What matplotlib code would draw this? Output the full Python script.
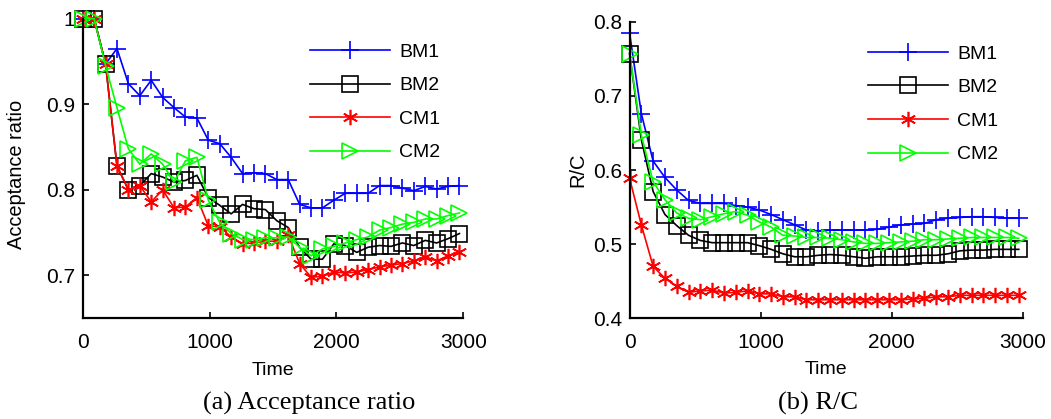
import numpy as np
import matplotlib
matplotlib.use("Agg")
import matplotlib.pyplot as plt

# sampling times (every 90 time units)
time = np.arange(0, 3000, 90)

# (a) acceptance ratio
acc_bm1 = [1.0, 1.0, 0.947, 0.965, 0.924, 0.910, 0.928, 0.908, 0.896, 0.885, 0.884, 0.858,
           0.854, 0.838, 0.819, 0.820, 0.819, 0.812, 0.812, 0.783, 0.779, 0.779, 0.788, 0.796,
           0.796, 0.796, 0.805, 0.805, 0.802, 0.799, 0.804, 0.801, 0.804, 0.805]
acc_bm2 = [1.0, 1.0, 0.947, 0.828, 0.800, 0.805, 0.819, 0.815, 0.809, 0.811, 0.817, 0.791,
           0.782, 0.772, 0.783, 0.778, 0.777, 0.764, 0.756, 0.733, 0.719, 0.719, 0.737, 0.735,
           0.727, 0.733, 0.735, 0.734, 0.738, 0.735, 0.741, 0.738, 0.743, 0.749]
acc_cm1 = [1.0, 1.0, 0.947, 0.828, 0.800, 0.805, 0.786, 0.800, 0.779, 0.780, 0.791, 0.758,
           0.757, 0.745, 0.737, 0.738, 0.740, 0.740, 0.747, 0.714, 0.698, 0.699, 0.704, 0.703,
           0.704, 0.707, 0.710, 0.712, 0.714, 0.717, 0.722, 0.717, 0.723, 0.728]
acc_cm2 = [1.0, 1.0, 0.945, 0.896, 0.848, 0.830, 0.842, 0.830, 0.809, 0.834, 0.838, 0.788,
           0.762, 0.749, 0.742, 0.742, 0.744, 0.744, 0.745, 0.733, 0.723, 0.731, 0.734, 0.738,
           0.742, 0.745, 0.753, 0.756, 0.760, 0.762, 0.766, 0.766, 0.770, 0.773]

# (b) R/C
rc_bm1 = [0.785, 0.676, 0.612, 0.590, 0.573, 0.559, 0.555, 0.555, 0.555, 0.552, 0.550, 0.546,
          0.540, 0.533, 0.526, 0.519, 0.518, 0.519, 0.519, 0.519, 0.519, 0.520, 0.523, 0.526,
          0.527, 0.528, 0.533, 0.535, 0.536, 0.537, 0.537, 0.536, 0.535, 0.535]
rc_bm2 = [0.757, 0.641, 0.571, 0.540, 0.525, 0.512, 0.505, 0.502, 0.502, 0.502, 0.502, 0.498,
          0.493, 0.487, 0.483, 0.483, 0.485, 0.486, 0.485, 0.483, 0.481, 0.483, 0.483, 0.483,
          0.484, 0.485, 0.485, 0.487, 0.491, 0.492, 0.492, 0.493, 0.493, 0.493]
rc_cm1 = [0.589, 0.526, 0.470, 0.454, 0.443, 0.435, 0.437, 0.438, 0.434, 0.435, 0.437, 0.433,
          0.433, 0.429, 0.429, 0.425, 0.425, 0.425, 0.425, 0.425, 0.425, 0.425, 0.425, 0.425,
          0.426, 0.427, 0.429, 0.429, 0.431, 0.431, 0.431, 0.431, 0.431, 0.431]
rc_cm2 = [0.757, 0.647, 0.584, 0.560, 0.542, 0.535, 0.533, 0.537, 0.541, 0.544, 0.539, 0.530,
          0.523, 0.512, 0.511, 0.509, 0.509, 0.508, 0.506, 0.503, 0.501, 0.501, 0.502, 0.503,
          0.504, 0.506, 0.506, 0.507, 0.508, 0.509, 0.509, 0.509, 0.509, 0.508]

labels = ["BM1", "BM2", "CM1", "CM2"]
colors = ["#0000ff", "#000000", "#ff0000", "#00ff00"]
markers = ["+", "s", (6, 2, 0), ">"]
msizes = [13, 11, 11, 12]

plt.rcParams["font.family"] = ["Liberation Sans", "DejaVu Sans"]

fig = plt.figure(figsize=(10.51, 4.19), dpi=100)
ax1 = fig.add_axes([0.0787, 0.2403, 0.3621, 0.7153])
ax2 = fig.add_axes([0.599, 0.2403, 0.3741, 0.7079])


def draw(ax, series, ylim, yticks, yticklabels, ylabel, leg_x, leg_y):
    for vals, lab, c, m, ms in zip(series, labels, colors, markers, msizes):
        ax.plot(time, vals, color=c, lw=1.2, marker=m, ms=ms, mfc="none",
                mec=c, mew=1.2, label=lab, clip_on=False)
    ax.set_xlim(0, 3000)
    ax.set_ylim(*ylim)
    ax.set_xticks([0, 1000, 2000, 3000])
    ax.set_yticks(yticks)
    ax.set_yticklabels(yticklabels)
    for s in ["top", "right"]:
        ax.spines[s].set_visible(False)
    for s in ["left", "bottom"]:
        ax.spines[s].set_linewidth(1.6)
    ax.tick_params(direction="in", length=4, width=1.2, labelsize=15)
    ax.tick_params(axis="x", pad=10.5)
    ax.tick_params(axis="y", pad=5.5)
    ax.set_xlabel("Time", fontsize=14)
    ax.set_ylabel(ylabel, fontsize=14.4)
    ax.legend(loc="upper left", bbox_to_anchor=(leg_x, leg_y), frameon=False,
              fontsize=14, handlelength=4.1, handletextpad=0.5, labelspacing=0.82,
              borderpad=0, borderaxespad=0, numpoints=1)


draw(ax1, [acc_bm1, acc_bm2, acc_cm1, acc_cm2], (0.65, 1.0), [0.7, 0.8, 0.9, 1.0],
     ["0.7", "0.8", "0.9", "1"], "Acceptance ratio", 0.597, 0.918)
draw(ax2, [rc_bm1, rc_bm2, rc_cm1, rc_cm2], (0.4, 0.8), [0.4, 0.5, 0.6, 0.7, 0.8],
     ["0.4", "0.5", "0.6", "0.7", "0.8"], "R/C", 0.6066, 0.921)

for ax in (ax1, ax2):
    ax.yaxis.label.set_va("center")
    ax.xaxis.label.set_va("center")
    ax.xaxis.set_label_coords(0.5, -0.1725)
ax1.yaxis.set_label_coords(-0.173, 0.481)
ax2.yaxis.set_label_coords(-0.131, 0.5)

fig.text(309 / 1051, 1 - 403 / 419, "(a) Acceptance ratio", ha="center", va="center",
         fontsize=19, family=["Liberation Serif", "DejaVu Serif"])
fig.text(818 / 1051, 1 - 403 / 419, "(b) R/C", ha="center", va="center",
         fontsize=19, family=["Liberation Serif", "DejaVu Serif"])

fig.savefig("out.png", dpi=100)
